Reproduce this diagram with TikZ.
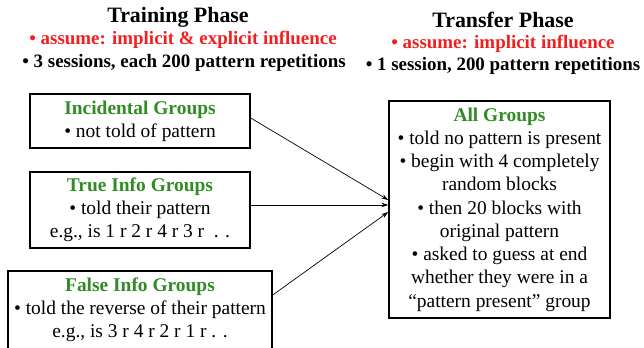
\documentclass[tikz,border=0pt]{standalone}
\usepackage{fontspec}
\setmainfont{Liberation Serif}
\usetikzlibrary{arrows.meta}
\definecolor{grpgreen}{RGB}{50,140,38}
\definecolor{hdred}{RGB}{240,32,32}
\tikzset{
  grpbox/.style={draw=black, line width=1.4bp, align=center, inner sep=0pt,
    font=\fontsize{19.5}{23.3}\selectfont},
  hdtitle/.style={inner sep=0pt, font=\bfseries\fontsize{22}{26}\selectfont},
  hdred/.style={inner sep=0pt, text=hdred, font=\bfseries\fontsize{19}{22}\selectfont},
  hdblack/.style={inner sep=0pt, font=\bfseries\fontsize{19}{22}\selectfont},
  conn/.style={line width=0.7bp, -{Stealth[length=7bp,width=4.5bp]}}
}
\newcommand{\gtitle}[1]{\textcolor{grpgreen}{\textbf{#1}}}
\begin{document}
\begin{tikzpicture}[x=1bp,y=-1bp]
\useasboundingbox (0,0) rectangle (644,347);
\clip (0,0) rectangle (644,347);
% headers
\node[hdtitle] (ltitle) at (178,17) {Training Phase};
\node[hdred] (lred) at (183,40) {• assume: implicit \& explicit influence};
\node[hdblack] (lblack) at (184,63) {• 3 sessions, each 200 pattern repetitions};
\node[hdtitle] (rtitle) at (503,20) {Transfer Phase};
\node[hdred] (rred) at (503,44) {• assume: implicit influence};
\node[hdblack] (rblack) at (503,66) {• 1 session, 200 pattern repetitions};
% boxes
\node[grpbox, minimum width=220bp, minimum height=54bp] (inc) at (140,121)
  {\gtitle{Incidental Groups}\\• not told of pattern};
\node[grpbox, minimum width=220bp, minimum height=76bp] (tru) at (140,210)
  {\gtitle{True Info Groups}\\• told their pattern\\e.g., is 1 r 2 r 4 r 3 r \ . .};
\node[grpbox, minimum width=264bp, minimum height=78bp] (fal) at (140,310)
  {\gtitle{False Info Groups}\\• told the reverse of their pattern\\e.g., is 3 r 4 r 2 r 1 r . .};
\node[grpbox, minimum width=221bp, minimum height=217bp] (all) at (499.5,209.5)
  {\gtitle{All Groups}\\• told no pattern is present\\• begin with 4 completely\\random blocks\\• then 20 blocks with\\original pattern\\• asked to guess at end\\whether they were in a\\“pattern present” group};
% connectors
\draw[conn] ([yshift=3bp]inc.east) -- ([yshift=9.5bp]all.west);
\draw[conn] ([yshift=5bp]tru.east) -- ([yshift=4.5bp]all.west);
\draw[conn] ([yshift=15bp]fal.east) -- ([yshift=-2.5bp]all.west);
\end{tikzpicture}
\end{document}
